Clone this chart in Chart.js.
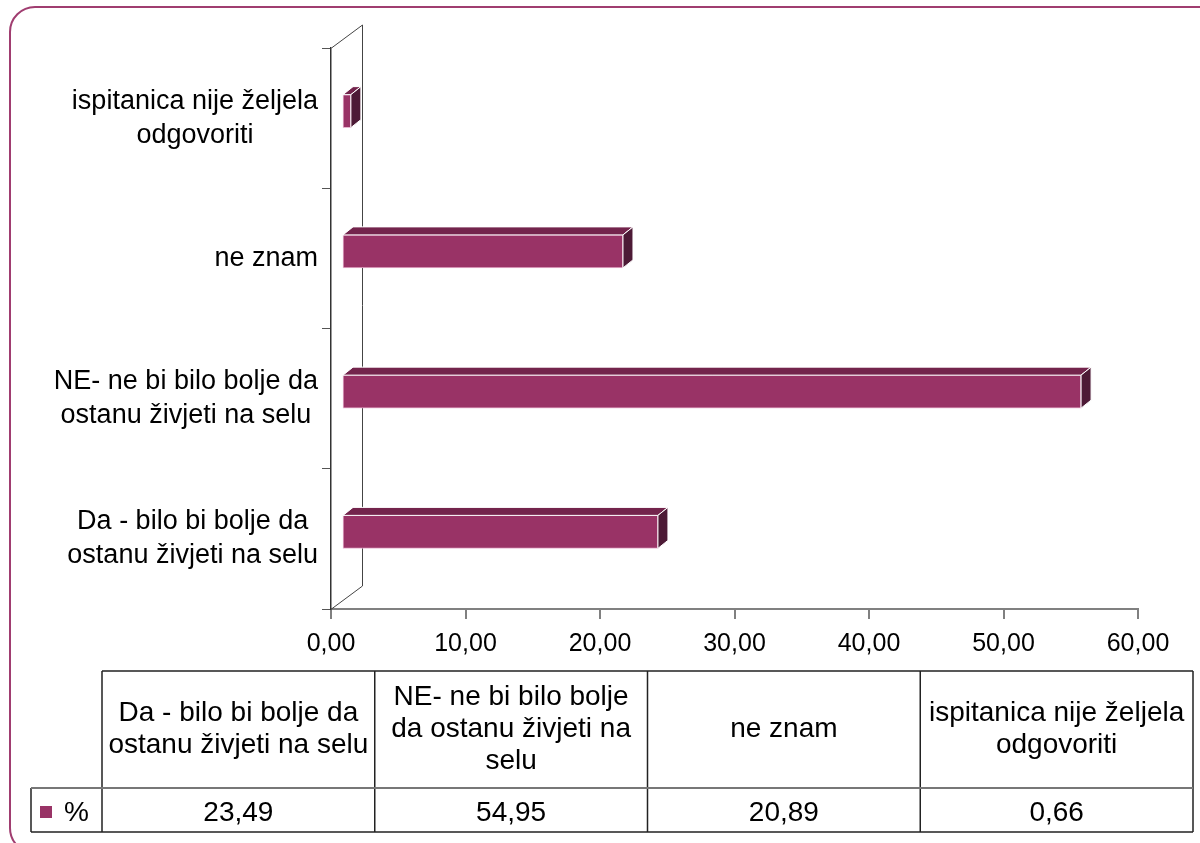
<!DOCTYPE html>
<html>
<head>
<meta charset="utf-8">
<script src="https://cdn.jsdelivr.net/npm/chart.js@4"></script>
<style>
html, body { margin: 0; padding: 0; background: #fff; }
</style>
</head>
<body>
<canvas id="myChart" width="1200" height="843"></canvas>
<script>
// data
var axisLabels = [
    ['Da - bilo bi bolje da', 'ostanu živjeti na selu'],
    ['NE- ne bi bilo bolje da', 'ostanu živjeti na selu'],
    ['ne znam'],
    ['ispitanica nije željela', 'odgovoriti']
];
var tableLabels = [
    ['Da - bilo bi bolje da', 'ostanu živjeti na selu'],
    ['NE- ne bi bilo bolje', 'da ostanu živjeti na', 'selu'],
    ['ne znam'],
    ['ispitanica nije željela', 'odgovoriti']
];
var seriesName = '%';
var values = [23.49, 54.95, 20.89, 0.66];
var xMin = 0, xMax = 60, xStep = 10;

var FONT = '"Liberation Sans", Arial, sans-serif';
var front = '#993366', topFace = '#73244c', sideFace = '#4d1a36';

function fmt(v) { return v.toFixed(2).replace('.', ','); }

function poly(ctx, pts, fill) {
    ctx.beginPath();
    ctx.moveTo(pts[0][0], pts[0][1]);
    for (var i = 1; i < pts.length; i++) ctx.lineTo(pts[i][0], pts[i][1]);
    ctx.closePath();
    ctx.fillStyle = fill;
    ctx.fill();
    ctx.strokeStyle = '#ffffff';
    ctx.lineWidth = 1;
    ctx.stroke();
}

var bar3d = {
    id: 'bar3d',
    beforeDraw: function (chart) {
        var ctx = chart.ctx;
        ctx.save();
        ctx.strokeStyle = '#a03d70';
        ctx.lineWidth = 2;
        ctx.beginPath();
        ctx.roundRect(10, 7, 1240, 846, 25);
        ctx.stroke();
        ctx.restore();
    },
    beforeDatasetsDraw: function (chart) {
        var a = chart.chartArea, ctx = chart.ctx;
        ctx.save();
        ctx.strokeStyle = '#444';
        ctx.lineWidth = 1;
        ctx.beginPath();
        ctx.moveTo(a.left + 0.5, a.top);
        ctx.lineTo(a.left + 31.5, a.top - 23);
        ctx.lineTo(a.left + 31.5, a.bottom - 23);
        ctx.lineTo(a.left + 0.5, a.bottom);
        ctx.stroke();
        ctx.restore();
        ctx.save();
        ctx.translate(11, -7);
    },
    afterDatasetsDraw: function (chart) {
        var ctx = chart.ctx, dx = 10, dy = -8;
        chart.getDatasetMeta(0).data.forEach(function (bar) {
            var x0 = bar.base, x1 = bar.x;
            var y0 = bar.y - bar.height / 2, y1 = bar.y + bar.height / 2;
            poly(ctx, [[x0, y0], [x0 + dx, y0 + dy], [x1 + dx, y0 + dy], [x1, y0]], topFace);
            poly(ctx, [[x1, y0], [x1 + dx, y0 + dy], [x1 + dx, y1 + dy], [x1, y1]], sideFace);
        });
        ctx.restore();
    },
    afterDraw: function (chart) {
        var ctx = chart.ctx, ys = chart.scales.y;
        ctx.save();
        ctx.font = '27px ' + FONT;
        ctx.fillStyle = '#000';
        ctx.textAlign = 'center';
        ctx.textBaseline = 'middle';
        // category labels, lines centred in a right aligned block
        var lh = 34;
        axisLabels.forEach(function (lines, i) {
            var y = ys.getPixelForTick(i);
            var w = 0;
            lines.forEach(function (t) { w = Math.max(w, ctx.measureText(t).width); });
            var cx = 318 - w / 2;
            lines.forEach(function (t, k) {
                ctx.fillText(t, cx, y - (lines.length - 1) * lh / 2 + k * lh);
            });
        });

        // data table
        var left = 102, right = 1193, top = 671, mid = 788, bottom = 832, lx = 31;
        var cw = (right - left) / tableLabels.length;
        ctx.strokeStyle = '#222';
        ctx.lineWidth = 1.5;
        ctx.beginPath();
        ctx.moveTo(left, top); ctx.lineTo(right, top);
        ctx.moveTo(lx, bottom); ctx.lineTo(right, bottom);
        ctx.moveTo(lx, mid); ctx.lineTo(lx, bottom);
        for (var c = 0; c <= tableLabels.length; c++) {
            ctx.moveTo(left + c * cw, top); ctx.lineTo(left + c * cw, bottom);
        }
        ctx.stroke();
        ctx.strokeStyle = '#777';
        ctx.lineWidth = 2;
        ctx.beginPath();
        ctx.moveTo(lx, mid); ctx.lineTo(right, mid);
        ctx.stroke();

        ctx.font = '28px ' + FONT;
        var lh2 = 32;
        tableLabels.forEach(function (lines, i) {
            var cx = left + (i + 0.5) * cw, cy = (top + mid) / 2;
            lines.forEach(function (t, k) {
                ctx.fillText(t, cx, cy - (lines.length - 1) * lh2 / 2 + k * lh2);
            });
            ctx.fillText(fmt(values[i]), cx, (mid + bottom) / 2 + 3);
        });
        ctx.fillStyle = front;
        ctx.fillRect(40, 806, 12, 12);
        ctx.fillStyle = '#000';
        ctx.textAlign = 'left';
        ctx.fillText(seriesName, 64, (mid + bottom) / 2 + 3);
        ctx.restore();
    }
};

var ctx = document.getElementById('myChart').getContext('2d');
var myChart = new Chart(ctx, {
    type: 'bar',
    data: {
        labels: axisLabels,
        datasets: [{
            label: seriesName,
            data: values,
            backgroundColor: front,
            borderColor: '#e8b4cf',
            borderWidth: 1,
            borderSkipped: false,
            barThickness: 33
        }]
    },
    options: {
        indexAxis: 'y',
        responsive: false,
        animation: false,
        devicePixelRatio: 1,
        layout: { padding: { top: 48, right: 62, left: 0, bottom: 0 } },
        plugins: {
            legend: { display: false },
            tooltip: { enabled: false }
        },
        scales: {
            x: {
                min: xMin,
                max: xMax,
                ticks: {
                    stepSize: xStep,
                    color: '#000',
                    font: { family: FONT, size: 25 },
                    padding: 10,
                    callback: function (v) { return fmt(v); }
                },
                grid: { drawOnChartArea: false, tickLength: 10, color: '#808080', lineWidth: 2 },
                border: { color: '#808080', width: 2 },
                afterFit: function (s) { s.height = 234; }
            },
            y: {
                reverse: true,
                ticks: { display: false },
                grid: { drawOnChartArea: false, tickLength: 9, color: '#555', offset: true },
                border: { color: '#333', width: 1.5 },
                afterFit: function (s) { s.width = 331; }
            }
        }
    },
    plugins: [bar3d]
});
</script>
</body>
</html>
